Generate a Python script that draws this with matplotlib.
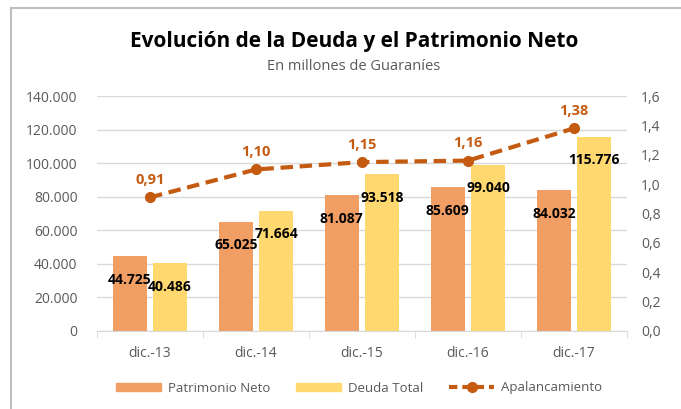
import matplotlib
matplotlib.use("Agg")
import matplotlib.pyplot as plt
import numpy as np
from matplotlib.lines import Line2D
from matplotlib.patches import Patch

categories = ["dic.-13", "dic.-14", "dic.-15", "dic.-16", "dic.-17"]
patrimonio = [44725, 65025, 81087, 85609, 84032]
deuda = [40486, 71664, 93518, 99040, 115776]
apalancamiento = [0.91, 1.10, 1.15, 1.16, 1.38]
left_ticks = [0, 20000, 40000, 60000, 80000, 100000, 120000, 140000]
right_ticks = [0.0, 0.2, 0.4, 0.6, 0.8, 1.0, 1.2, 1.4, 1.6]

c_pn = "#F19E64"
c_dt = "#FFD96F"
c_line = "#C55A11"
c_txt = "#595959"
FONT = "Open Sans"
plt.rcParams['font.family'] = [FONT, 'DejaVu Sans']

def fmt_thousands(v):
    return f"{int(v):,}".replace(",", ".")

fig = plt.figure(figsize=(6.81, 4.09), dpi=100)
ax = fig.add_axes([97/681, 1-331/409, 530/681, 235/409])
ax2 = ax.twinx()

x = np.arange(len(categories))
w = 0.32
off = 0.19
ax.bar(x - off, patrimonio, w, color=c_pn, zorder=2)
ax.bar(x + off, deuda, w, color=c_dt, zorder=2)

for xi, v in zip(x - off, patrimonio):
    ax.annotate(fmt_thousands(v), (xi, v), xytext=(0, -17), textcoords="offset points",
                ha="center", va="center", fontsize=10, fontweight="bold", color="black", zorder=5)
for xi, v in zip(x + off, deuda):
    ax.annotate(fmt_thousands(v), (xi, v), xytext=(0, -17), textcoords="offset points",
                ha="center", va="center", fontsize=10, fontweight="bold", color="black", zorder=5)

ax.set_ylim(0, 140000)
ax.set_yticks(left_ticks)
ax.set_yticklabels([fmt_thousands(t) for t in left_ticks])
ax.set_xlim(-0.5, len(categories) - 0.5)
ax.set_xticks(x)
ax.set_xticklabels(categories)
ax.set_xticks(np.arange(-0.5, len(categories)), minor=True)
ax.tick_params(axis="x", which="major", length=0, pad=11, labelsize=10, labelcolor=c_txt)
ax.tick_params(axis="x", which="minor", length=5, color="#D9D9D9", direction="out")
ax.tick_params(axis="y", length=0, pad=14, labelsize=10, labelcolor=c_txt)
ax.grid(axis="y", color="#D9D9D9", linewidth=1, zorder=0)
ax.set_axisbelow(True)
for s in ["top", "left", "right"]:
    ax.spines[s].set_visible(False)
ax.spines["bottom"].set_color("#D9D9D9")

dash = (0, (3.0, 1.6))
ax2.plot(x, apalancamiento, color=c_line, linewidth=3, linestyle=dash,
         marker="o", markersize=7, zorder=4)
for xi, v in zip(x, apalancamiento):
    ax2.annotate(f"{v:.2f}".replace(".", ","), (xi, v), xytext=(0, 12.5), textcoords="offset points",
                 ha="center", va="center", fontsize=10.5, fontweight="bold", color=c_line)
ax2.set_ylim(0, 1.6)
ax2.set_yticks(right_ticks)
ax2.set_yticklabels([f"{t:.1f}".replace(".", ",") for t in right_ticks])
ax2.tick_params(axis="y", length=0, pad=10, labelsize=10, labelcolor=c_txt)
for s in ["top", "left", "right", "bottom"]:
    ax2.spines[s].set_visible(False)

cx = 354/681
fig.text(cx, 1-42/409, "Evolución de la Deuda y el Patrimonio Neto", ha="center", va="center",
         fontsize=15, fontweight="bold", color="black")
fig.text(cx, 1-66/409, "En millones de Guaraníes", ha="center", va="center",
         fontsize=10.5, color=c_txt)

handles = [Patch(color=c_pn), Patch(color=c_dt),
           Line2D([0], [0], color=c_line, linewidth=3, linestyle=(0, (2.0, 1.2)), marker="o", markersize=7)]
fig.legend(handles, ["Patrimonio Neto", "Deuda Total", "Apalancamiento"], loc="center",
           bbox_to_anchor=(359/681, 1-388/409), ncol=3, frameon=False, fontsize=9.5,
           labelcolor=c_txt, handlelength=3.4, handleheight=0.5, columnspacing=2.0, handletextpad=0.5)

fig.add_artist(Line2D([11/681, 11/681], [0, 1-8/409], transform=fig.transFigure, color="#BFBFBF", linewidth=1.5))
fig.add_artist(Line2D([11/681, 1], [1-8/409, 1-8/409], transform=fig.transFigure, color="#BFBFBF", linewidth=1.5))

fig.savefig("out.png", dpi=100)
